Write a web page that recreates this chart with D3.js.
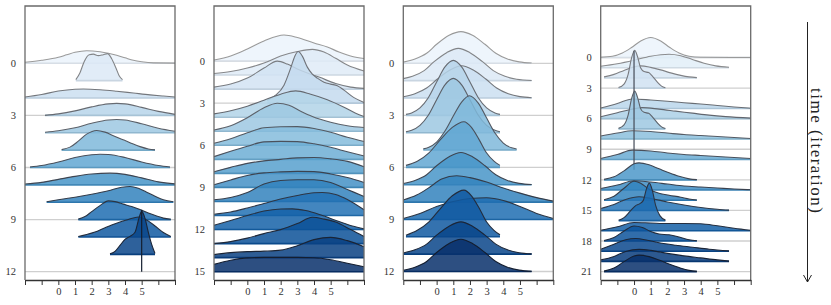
<!DOCTYPE html>
<html><head><meta charset="utf-8">
<script src="https://cdn.jsdelivr.net/npm/d3@7"></script>
<style>body{margin:0;background:#fff}svg{display:block}</style>
</head><body><svg id="c" width="831" height="305"></svg>
<script>
// ---------- data ----------
const xTicks = [-2,-1,0,1,2,3,4,5,6,7];
const xTickLabels = ["","","0","1","2","3","4","5","",""];
const axisTitle = "time (iteration)";

// Panel 1: 13 iterations (each ridge = [x, density] samples; single point = spike)
const panel1Ridges = [
 [[-2,0.01],[-1,0.03],[0,0.06],[0.5,0.085],[1,0.11],[1.7,0.126],[2.5,0.115],[3,0.1],[3.5,0.08],[4,0.055],[4.5,0.03],[5,0.015],[5.7,0.004],[7,0.002]],
 [[1.05,0.01],[1.3,0.08],[1.55,0.19],[1.85,0.26],[2.1,0.265],[2.4,0.25],[2.7,0.26],[2.95,0.27],[3.2,0.22],[3.45,0.13],[3.65,0.05],[3.85,0.01]],
 [[-2,0.01],[-1,0.035],[0,0.07],[1,0.088],[1.5,0.09],[2.5,0.083],[3.5,0.068],[4.5,0.05],[5.5,0.032],[6.3,0.02],[7,0.01]],
 [[-0.8,0],[0,0.015],[1,0.045],[2,0.085],[3,0.115],[3.5,0.12],[4,0.115],[5,0.08],[6,0.04],[7,0.01]],
 [[-0.8,0.005],[0,0.02],[1,0.05],[2,0.095],[3,0.128],[3.5,0.133],[4,0.128],[5,0.09],[6,0.045],[7,0.015]],
 [[0.2,0.005],[0.7,0.03],[1.2,0.09],[1.7,0.16],[2.3,0.197],[2.8,0.18],[3.3,0.145],[3.8,0.11],[4.3,0.075],[4.9,0.035],[5.4,0.012],[5.8,0.003]],
 [[-1.7,0.005],[-1,0.02],[0,0.055],[1,0.1],[2,0.128],[2.5,0.133],[3,0.13],[4,0.1],[5,0.055],[6,0.02],[6.7,0.005]],
 [[-2,0.008],[-1,0.025],[0,0.055],[1,0.085],[2,0.108],[3.1,0.117],[4,0.105],[5,0.07],[6,0.03],[7,0.01]],
 [[-0.7,0.005],[0,0.025],[1,0.05],[2,0.08],[3,0.115],[3.8,0.15],[4.3,0.158],[4.8,0.14],[5.3,0.1],[5.8,0.06],[6.3,0.025],[6.9,0.005]],
 [[1.2,0.005],[1.6,0.03],[2,0.08],[2.5,0.14],[3,0.187],[3.4,0.18],[3.9,0.155],[4.4,0.13],[4.9,0.1],[5.4,0.065],[5.9,0.035],[6.3,0.015],[6.75,0.003]],
 [[1.2,0.005],[1.7,0.025],[2.2,0.05],[2.7,0.085],[3.2,0.12],[3.7,0.15],[4.2,0.175],[4.8,0.2],[5.3,0.17],[5.8,0.11],[6.3,0.045],[6.75,0.005]],
 [[3.1,0.005],[3.4,0.03],[3.7,0.09],[4,0.15],[4.3,0.18],[4.6,0.22],[4.85,0.37],[5,0.43],[5.2,0.36],[5.4,0.22],[5.6,0.1],[5.8,0.01]],
 [[5,0.62]]
];

// Panel 2: 16 iterations
const panel2Ridges = [
 [[-2,0.01],[-1,0.05],[0,0.12],[1,0.2],[2.2,0.26],[3,0.235],[4,0.18],[4.8,0.14],[5.5,0.09],[6.3,0.045],[7,0.025]],
 [[-2,0.015],[-1,0.035],[0,0.07],[1,0.12],[2,0.19],[3,0.235],[3.9,0.257],[4.6,0.23],[5.3,0.167],[6,0.1],[7,0.04]],
 [[-2,0.02],[-1,0.05],[0,0.11],[1,0.21],[1.8,0.28],[2.4,0.25],[3,0.2],[3.6,0.16],[4.3,0.12],[5.3,0.055],[6.2,0.02],[7,0.007]],
 [[1.2,0.03],[1.7,0.08],[2.2,0.18],[2.6,0.35],[2.85,0.47],[3.05,0.516],[3.3,0.47],[3.6,0.36],[3.9,0.29],[4.2,0.25],[4.6,0.21],[5,0.19],[5.4,0.175],[5.8,0.13],[6.4,0.055],[7,0.007]],
 [[-2,0.033],[-1,0.065],[0,0.11],[1,0.17],[2,0.23],[2.9,0.263],[3.8,0.23],[4.8,0.175],[5.8,0.1],[6.5,0.04],[7,0.007]],
 [[-2,0.013],[-1,0.055],[0,0.135],[1,0.235],[1.8,0.28],[2.5,0.26],[3.2,0.2],[3.9,0.147],[5,0.09],[6,0.055],[7,0.037]],
 [[-2,0.02],[-1,0.065],[0,0.125],[1,0.175],[2,0.185],[3,0.187],[4,0.168],[5,0.13],[6,0.08],[7,0.037]],
 [[-2,0.027],[-1,0.08],[0,0.13],[1,0.175],[2,0.18],[3,0.177],[4,0.155],[5,0.12],[6,0.075],[7,0.033]],
 [[-2,0.017],[-1,0.06],[0,0.1],[1,0.125],[2,0.14],[3,0.155],[4,0.158],[5,0.145],[6,0.12],[7,0.067]],
 [[-2,0.027],[-1,0.075],[0,0.12],[1,0.145],[2,0.155],[3,0.16],[4,0.158],[5,0.135],[6,0.1],[7,0.05]],
 [[-2,0.017],[-1,0.04],[0,0.09],[1,0.175],[2,0.21],[3,0.217],[4,0.217],[5,0.19],[6,0.12],[7,0.05]],
 [[-2,0.013],[-1,0.035],[0,0.075],[1,0.12],[2,0.165],[3,0.2],[4,0.227],[4.5,0.23],[5.3,0.21],[6,0.16],[7,0.057]],
 [[-2,0.043],[-1,0.09],[0,0.14],[1,0.185],[2,0.205],[2.7,0.207],[3.5,0.19],[4.5,0.14],[5.5,0.08],[6.3,0.035],[7,0.007]],
 [[-2,0],[-1,0.02],[0,0.055],[1,0.1],[2,0.14],[3,0.2],[3.9,0.263],[4.6,0.245],[5.3,0.215],[6.2,0.14],[7,0.07]],
 [[-2,0.03],[-1,0.05],[0,0.06],[1,0.065],[2,0.075],[3,0.12],[4,0.18],[5,0.203],[6,0.17],[7,0.11]],
 [[-2,0.073],[-1,0.115],[0,0.138],[1,0.143],[2,0.143],[3,0.143],[4,0.14],[5,0.12],[6,0.085],[7,0.05]]
];

// Panel 3: 13 iterations
const panel3Ridges = [
 [[-2,0.012],[-1.3,0.043],[-0.6,0.1],[0,0.19],[0.75,0.28],[1.46,0.317],[2.15,0.28],[2.9,0.19],[3.55,0.1],[4.25,0.043],[4.95,0.014],[5.7,0.003]],
 [[-2,0.02],[-1.45,0.043],[-0.75,0.1],[-0.15,0.19],[0.6,0.28],[1.3,0.323],[2,0.28],[2.75,0.19],[3.4,0.1],[4.1,0.043],[4.8,0.014],[5.7,0.002]],
 [[-2,0.012],[-1.3,0.043],[-0.6,0.1],[0.05,0.19],[0.8,0.28],[1.5,0.323],[2.2,0.28],[2.95,0.19],[3.6,0.1],[4.3,0.043],[5,0.014],[5.7,0.003]],
 [[-1.84,0.01],[-1.5,0.024],[-1,0.074],[-0.5,0.176],[0,0.334],[0.5,0.484],[1,0.55],[1.5,0.484],[2,0.334],[2.5,0.176],[3,0.074],[3.5,0.024],[3.8,0.01]],
 [[-1.84,0.01],[-1.5,0.024],[-1,0.073],[-0.5,0.174],[0,0.33],[0.5,0.478],[1,0.543],[1.5,0.478],[2,0.33],[2.5,0.174],[3,0.073],[3.5,0.024],[3.8,0.01]],
 [[-0.8,0.012],[-0.5,0.026],[0,0.08],[0.5,0.19],[1,0.34],[1.5,0.48],[1.96,0.543],[2.5,0.47],[3,0.32],[3.5,0.17],[4,0.07],[4.5,0.022],[4.8,0.01]],
 [[-1.84,0.02],[-1.16,0.062],[-0.46,0.146],[0.24,0.28],[0.94,0.4],[1.64,0.457],[2.09,0.4],[2.54,0.28],[2.99,0.146],[3.44,0.062],[3.8,0.02]],
 [[-2,0.012],[-1.3,0.043],[-0.6,0.1],[0,0.19],[0.75,0.28],[1.46,0.323],[2.15,0.28],[2.9,0.19],[3.55,0.1],[4.25,0.043],[4.95,0.014],[5.7,0.003]],
 [[-2,0.02],[-1.2,0.07],[-0.5,0.14],[0.3,0.23],[1.2,0.263],[2,0.245],[3,0.2],[4,0.14],[5,0.09],[6,0.045],[7,0.01]],
 [[-2,0.01],[-1,0.06],[0,0.13],[1,0.18],[2,0.21],[3,0.217],[4,0.19],[5,0.13],[6,0.06],[7,0.01]],
 [[-1.84,0.015],[-1.16,0.065],[-0.46,0.15],[0.24,0.285],[0.94,0.41],[1.64,0.467],[2.09,0.41],[2.54,0.29],[2.99,0.15],[3.44,0.065],[3.8,0.02]],
 [[-2,0.012],[-1.3,0.043],[-0.6,0.1],[0,0.19],[0.75,0.28],[1.46,0.323],[2.15,0.28],[2.9,0.19],[3.55,0.1],[4.25,0.043],[4.95,0.014],[5.7,0.003]],
 [[-2,0.012],[-1.3,0.043],[-0.6,0.1],[0,0.19],[0.75,0.28],[1.46,0.323],[2.15,0.28],[2.9,0.19],[3.55,0.1],[4.25,0.043],[4.95,0.014],[5.7,0.003]]
];

// Panel 4: 22 iterations (empty = nothing drawn)
const panel4Ridges = [
 [[-2,0.003],[-1.3,0.013],[-0.7,0.045],[-0.15,0.1],[0.4,0.165],[1,0.2],[1.6,0.165],[2.15,0.1],[2.7,0.045],[3.3,0.013],[4,0.003],[7,0]],
 [[-2,0.015],[-1,0.04],[0,0.075],[1,0.115],[2.1,0.135],[2.8,0.12],[3.5,0.082],[4.2,0.045],[4.9,0.018],[5.7,0.004]],
 [[-1.8,0.01],[-1.2,0.035],[-0.6,0.075],[0,0.11],[0.4,0.12],[1,0.105],[1.6,0.08],[2.2,0.05],[2.8,0.025],[3.3,0.01],[3.77,0.003]],
 [[-0.93,0.005],[-0.6,0.04],[-0.35,0.14],[-0.15,0.3],[0.04,0.379],[0.2,0.32],[0.4,0.2],[0.6,0.165],[0.88,0.155],[1.1,0.12],[1.4,0.06],[1.65,0.02],[1.88,0.003]],
 [],
 [[-2,0.005],[-1,0.05],[-0.1,0.095],[1,0.085],[2,0.073],[3,0.058],[4,0.045],[5,0.03],[6,0.015],[7,0.003]],
 [[-2,0.02],[-1,0.06],[0,0.1],[0.5,0.11],[1.5,0.095],[2.5,0.075],[3.5,0.055],[4.5,0.035],[5.5,0.02],[7,0.005]],
 [[-0.93,0.005],[-0.6,0.04],[-0.35,0.14],[-0.15,0.3],[0.04,0.379],[0.2,0.32],[0.4,0.2],[0.6,0.165],[0.88,0.155],[1.1,0.12],[1.4,0.06],[1.65,0.02],[1.88,0.003]],
 [[-2,0.03],[-1,0.06],[-0.1,0.083],[1,0.075],[2,0.06],[3,0.045],[4,0.035],[5,0.025],[6,0.015],[7,0.005]],
 [],
 [[-2,0.01],[-1,0.05],[-0.1,0.093],[1,0.085],[2,0.065],[3,0.05],[4,0.04],[5,0.03],[6,0.02],[7,0.01]],
 [[0,1.19]],
 [[-1.8,0.005],[-1.2,0.03],[-0.6,0.09],[0,0.16],[0.3,0.17],[0.9,0.15],[1.5,0.11],[2.1,0.07],[2.7,0.035],[3.3,0.01],[3.77,0.002]],
 [[-2,0.015],[-1,0.05],[0,0.093],[1,0.08],[2,0.06],[3,0.04],[4,0.03],[5,0.02],[6,0.01],[7,0.003]],
 [[-1.8,0.005],[-1.2,0.04],[-0.6,0.12],[0,0.19],[0.4,0.17],[0.9,0.11],[1.5,0.07],[2.1,0.05],[2.8,0.03],[3.3,0.012],[3.77,0.002]],
 [[-2,0.02],[-1.2,0.06],[-0.5,0.11],[0.3,0.137],[1,0.12],[2,0.085],[3,0.055],[4,0.03],[5,0.012],[5.7,0.003]],
 [[-0.92,0.003],[-0.6,0.03],[-0.2,0.1],[0.1,0.15],[0.3,0.165],[0.55,0.2],[0.75,0.32],[0.92,0.375],[1.1,0.3],[1.3,0.15],[1.55,0.05],[1.88,0.005]],
 [[-2,0.005],[-1,0.04],[0,0.083],[1,0.078],[2,0.073],[3,0.073],[4,0.07],[5,0.05],[6,0.025],[7,0.005]],
 [[-1.8,0.005],[-1.2,0.035],[-0.6,0.1],[0,0.15],[0.5,0.135],[1,0.095],[1.5,0.07],[2.1,0.062],[2.7,0.04],[3.3,0.012],[3.77,0.002]],
 [[-2,0.02],[-1.2,0.07],[-0.5,0.115],[0.1,0.127],[0.8,0.11],[1.5,0.085],[2.5,0.06],[3.5,0.04],[4.5,0.02],[5.7,0.003]],
 [[-2,0.015],[-1.2,0.05],[-0.5,0.1],[0.3,0.12],[1,0.11],[2,0.08],[3,0.055],[4,0.035],[5,0.015],[5.7,0.003]],
 [[-1.8,0.005],[-1.2,0.035],[-0.6,0.1],[0,0.155],[0.3,0.165],[0.9,0.15],[1.5,0.115],[2.1,0.075],[2.7,0.04],[3.3,0.012],[3.77,0.002]]
];

// ---------- layout ----------
const svg = d3.select("#c");
const FONT = "'Liberation Serif', 'DejaVu Serif', serif";
const frameTop = 6, frameBottom = 280;
const panels = [
  {ridges: panel1Ridges, x0: 25,    first: 63.3, last: 271.7},
  {ridges: panel2Ridges, x0: 214,   first: 61,   last: 271.7},
  {ridges: panel3Ridges, x0: 403.3, first: 63.3, last: 271.5},
  {ridges: panel4Ridges, x0: 600.7, first: 57.5, last: 271.6}
];
const W = 150;
const pxPerDensity = 100;

panels.forEach(p => {
  const n = p.ridges.length;
  const x = d3.scaleLinear().domain([-2, 7]).range([p.x0, p.x0 + W]);
  const y = d3.scaleLinear().domain([0, n - 1]).range([p.first, p.last]);
  const h = d3.scaleLinear().domain([0, 1]).range([0, pxPerDensity]);
  const g = svg.append("g");
  const labelRows = d3.range(0, n, 3);

  g.selectAll("line.grid").data(labelRows).join("line")
    .attr("x1", p.x0).attr("x2", p.x0 + W)
    .attr("y1", d => y(d)).attr("y2", d => y(d))
    .attr("stroke", "#cfcfcf").attr("stroke-width", 1.3);

  p.ridges.forEach((pts, i) => {
    if (!pts.length) return;
    const t = n > 1 ? i / (n - 1) : 0;
    const fill = d3.interpolateBlues(0.06 + 0.94 * t);
    const stroke = d3.interpolateRgb("#9a9a9a", "#141e30")(Math.pow(t, 0.7));
    const base = y(i);
    if (pts.length === 1) {
      g.append("line")
        .attr("x1", x(pts[0][0])).attr("x2", x(pts[0][0]))
        .attr("y1", base).attr("y2", base - h(pts[0][1]))
        .attr("stroke", stroke).attr("stroke-width", 1.2);
      return;
    }
    const area = d3.area().curve(d3.curveMonotoneX)
      .x(d => x(d[0])).y0(base).y1(d => base - h(d[1]));
    const line = d3.line().curve(d3.curveMonotoneX)
      .x(d => x(d[0])).y(d => base - h(d[1]));
    g.append("path").attr("d", area(pts))
      .attr("fill", fill).attr("fill-opacity", 0.85);
    g.append("line")
      .attr("x1", x(pts[0][0])).attr("x2", x(pts[pts.length - 1][0]))
      .attr("y1", base).attr("y2", base)
      .attr("stroke", d3.color(fill).darker(0.25)).attr("stroke-width", 1.6);
    g.append("path").attr("d", line(pts))
      .attr("fill", "none").attr("stroke", stroke).attr("stroke-width", 1.1);
  });

  g.selectAll("text.rl").data(labelRows).join("text")
    .attr("x", p.x0 - 9).attr("y", d => y(d)).attr("dy", "0.35em")
    .attr("text-anchor", "end").attr("font-family", FONT)
    .attr("font-size", 10.5).attr("fill", "#333").text(d => d);

  g.append("path")
    .attr("d", `M${p.x0},${frameBottom}V${frameTop}H${p.x0 + W}V${frameBottom}`)
    .attr("fill", "none").attr("stroke", "#6a6a6a").attr("stroke-width", 1.3);

  const ax = d3.axisBottom(x).tickValues(xTicks).tickSize(5).tickSizeOuter(0)
    .tickFormat((d, k) => xTickLabels[k]);
  const axg = g.append("g").attr("transform", `translate(0,${frameBottom})`).call(ax);
  axg.select(".domain").attr("stroke", "#333").attr("stroke-width", 1.3);
  axg.selectAll(".tick line").attr("stroke", "#333").attr("stroke-width", 1);
  axg.selectAll(".tick text").attr("font-family", FONT).attr("font-size", 10.5)
    .attr("fill", "#333").attr("y", 8);
});

svg.append("line").attr("x1", 807.5).attr("x2", 807.5).attr("y1", 22).attr("y2", 282)
  .attr("stroke", "#222").attr("stroke-width", 1);
svg.append("path").attr("d", "M803.5,275 L807.5,282 L811.5,275")
  .attr("fill", "none").attr("stroke", "#222").attr("stroke-width", 1);
svg.append("text")
  .attr("transform", "translate(811,150.5) rotate(90)")
  .attr("text-anchor", "middle").attr("font-family", FONT)
  .attr("font-size", 17).attr("textLength", 125).attr("lengthAdjust", "spacing")
  .attr("fill", "#222").text(axisTitle);
</script></body></html>
